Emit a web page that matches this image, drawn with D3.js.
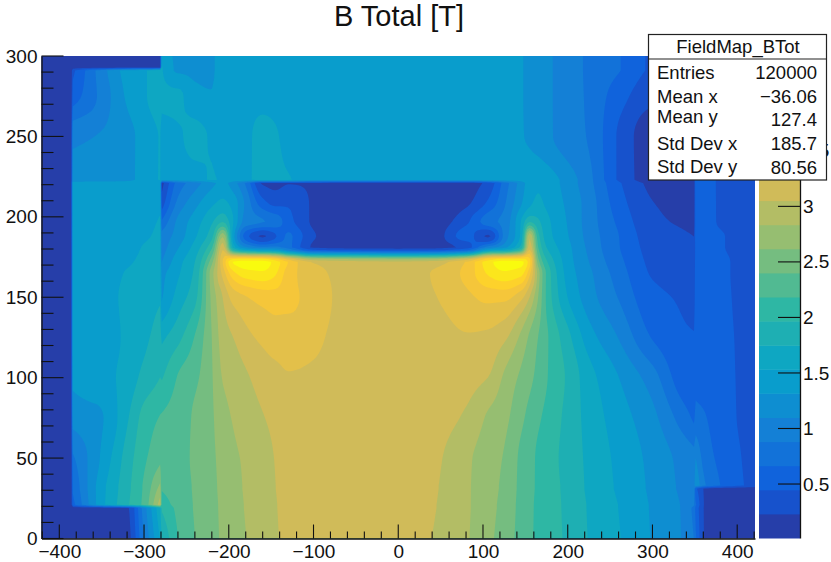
<!DOCTYPE html>
<html><head><meta charset="utf-8">
<script src="https://cdn.jsdelivr.net/npm/d3@7"></script>
<style>html,body{margin:0;background:#fff}svg{display:block}text{font-family:"Liberation Sans",Arial,sans-serif;fill:#111}</style>
</head><body><svg id="c" width="831" height="562"></svg>
<script>
const titleText = "B Total [T]";
const statsName = "FieldMap_BTot";
const statsLabels = ["Entries","Mean x","Mean y","Std Dev x","Std Dev y"];
const statsValues = ["120000","\u221236.06","127.4","185.7","80.56"];
const xTicks = [-400,-300,-200,-100,0,100,200,300,400];
const yTicks = [0,50,100,150,200,250,300];
const zTicks = [0.5,1,1.5,2,2.5,3,3.5];
const zMin = 0.014, zMax = 4.354, nLevels = 20;
const birdR = [0.2082,0.0592,0.0780,0.0232,0.1802,0.5301,0.8186,0.9956,0.9764];
const birdG = [0.1664,0.3599,0.5041,0.6419,0.7178,0.7492,0.7328,0.7862,0.9832];
const birdB = [0.5293,0.8684,0.8385,0.7914,0.6425,0.4662,0.3499,0.1968,0.0539];
// sample positions of the field (mm), uneven so sharp edges stay sharp
const gridX = [-421,-386,-384,-350,-320,-300,-281, -279,-260,-240,-220,-207,-195,-180,-160,-145,-130,-100,-60, 0,40,80,106,125,145,155,165,175, 200,225,260,300,335,349,351,362,385,421];
const gridY = [0,19,21,31,33,50,75,100,125,150,165,172,181,188,197,208,221,223,250,275,291,293,300];
const edgeLeftX = [-386,-281,349];   // lower bound of a jump in the field
const edgeLowY = [19,31,221,291];
// B total (T), one row per gridY value
const field = [
[.1,.1,.1,.1,.15,.9,1.55, 1.75,2.18, 2.40,2.55,2.65,2.72,2.83,2.95,3.03,3.1,3.16,3.16, 3.16,3.05,2.86,2.67,2.52,2.32,2.22,2.14,2.07, 1.93,1.74,1.55,1.3,1.09,.88,.7,.2,.1,.1],
[.1,.1,.1,.1,.2,1.0,1.7, 2.0,2.24, 2.42,2.56,2.66,2.74,2.85,2.96,3.04,3.11,3.16,3.16, 3.16,3.07,2.87,2.69,2.55,2.33,2.23,2.14,2.07, 1.92,1.73,1.53,1.29,1.08,.82,.6,.2,.1,.1],
[.1,.1,.6,1.46,1.93,2.25,2.95, 2.1,2.25, 2.42,2.56,2.66,2.74,2.85,2.96,3.04,3.11,3.16,3.16, 3.16,3.07,2.87,2.69,2.55,2.33,2.23,2.14,2.07, 1.92,1.73,1.53,1.29,1.08,.9,.7,.2,.1,.1],
[.1,.1,.7,1.45,1.9,2.22,2.7, 2.2,2.28, 2.43,2.57,2.67,2.76,2.86,2.97,3.05,3.115,3.16,3.16, 3.16,3.08,2.87,2.7,2.57,2.34,2.24,2.15,2.07, 1.91,1.71,1.5,1.27,1.06,1.0,.5,.2,.1,.1],
[.1,.1,.7,1.45,1.9,2.22,2.65, 2.2,2.28, 2.43,2.57,2.67,2.76,2.86,2.97,3.05,3.115,3.16,3.16, 3.16,3.08,2.87,2.7,2.57,2.34,2.24,2.15,2.07, 1.91,1.71,1.5,1.27,1.06,1.0,1.3,.9,.62,.36],
[.1,.1,.85,1.35,1.85,2.14,2.35, 2.25,2.3, 2.45,2.58,2.69,2.79,2.87,2.98,3.06,3.12,3.16,3.16, 3.16,3.1,2.88,2.72,2.6,2.35,2.25,2.15,2.07, 1.89,1.7,1.48,1.25,1.03,.95,1.1,.78,.58,.35],
[.1,.1,1.18,1.3,1.72,2.05,2.2, 2.2,2.27, 2.44,2.59,2.76,2.85,2.94,3.04,3.1,3.14,3.16,3.16, 3.16,3.14,3.02,2.8,2.68,2.45,2.33,2.22,2.13, 1.9,1.67,1.42,1.16,.78,.63,.75,.68,.52,.35],
[.1,.1,1.35,1.45,1.62,1.82,1.97, 1.95,2.2, 2.35,2.6,2.85,2.92,3.02,3.14,3.2,3.25,3.23,3.16, 3.16,3.16,3.13,3.05,2.8,2.57,2.46,2.33,2.2, 1.93,1.62,1.32,.98,.55,.5,.6,.58,.5,.35],
[.1,.1,1.38,1.42,1.58,1.7,1.85, 1.7,1.9, 2.2,2.62,2.94,3.05,3.2,3.32,3.38,3.38,3.32,3.18, 3.16,3.18,3.25,3.22,3.1,2.78,2.58,2.4,2.22, 1.82,1.42,1.09,.65,.48,.46,.58,.56,.49,.35],
[.1,.1,1.38,1.45,1.58,1.65,1.72, 1.3,1.62, 1.9,2.68,3.06,3.35,3.47,3.57,3.6,3.55,3.4,3.2, 3.16,3.25,3.42,3.55,3.55,3.33,3.05,2.62,2.15, 1.53,1.2,.87,.5,.42,.36,.56,.55,.48,.33],
[.1,.1,1.38,1.42,1.55,1.6,1.6, 1.25,1.5, 1.8,2.75,3.35,3.85,4.05,4.1,3.95,3.6,3.35,3.2, 3.16,3.28,3.55,3.95,4.1,4.0,3.55,2.75,2.15, 1.45,1.15,.78,.43,.38,.33,.55,.52,.47,.33],
[.1,.1,1.38,1.41,1.5,1.58,1.6, 1.1,1.45, 1.75,2.55,3.5,4.15,4.25,4.25,4.05,3.7,3.25,3.15, 3.1,3.15,3.5,4.05,4.25,4.2,3.8,2.5,2.0, 1.42,1.1,.73,.4,.33,.3,.55,.52,.47,.33],
[.1,.1,1.38,1.4,1.44,1.55,1.6, 1.0,1.3, 1.62,2.15,3.2,1.7,1.15,.95,.95,.75,.2,.12, .1,.12,.32,1.0,1.25,1.85,3.2,2.2,1.75, 1.38,1.05,.68,.36,.27,.25,.55,.5,.45,.33],
[.1,.1,1.38,1.4,1.43,1.5,1.58, .95,1.2, 1.5,1.9,2.8,1.45,.55,.2,.42,.7,.25,.1, .1,.1,.55,.2,.95,1.6,3.0,2.05,1.65, 1.33,1.02,.67,.33,.26,.23,.58,.5,.45,.33],
[.1,.1,1.4,1.41,1.42,1.47,1.55, .7,1.15, 1.42,1.72,1.95,1.55,1.0,.9,.8,.55,.2,.1, .1,.1,.4,.8,.95,1.55,1.95,1.8,1.6, 1.3,1.0,.62,.28,.2,.15,.58,.5,.42,.35],
[.1,.1,1.42,1.42,1.42,1.45,1.5, .35,.95, 1.25,1.5,1.6,1.45,1.05,.55,.4,.42,.2,.1, .1,.1,.2,.5,.85,1.3,1.5,1.58,1.5, 1.27,1.0,.55,.24,.17,.12,.6,.5,.42,.35],
[.1,.1,1.42,1.42,1.42,1.42,1.43, .15,.75, 1.0,1.25,1.38,1.2,.85,.2,.15,.22,.2,.12, .1,.1,.12,.3,.75,1.2,1.42,1.5,1.45, 1.22,.95,.48,.18,.12,.1,.62,.5,.42,.35],
[.1,.1,1.18,1.2,1.25,1.42,1.55, 1.42,1.42, 1.45,1.55,1.5,1.45,1.5,1.58,1.58,1.55,1.42,1.42, 1.42,1.42,1.42,1.42,1.42,1.42,1.45,1.5,1.45, 1.22,.95,.42,.12,.12,.1,.62,.5,.42,.35],
[.1,.1,1.05,1.12,1.25,1.4,1.55, 1.45,1.5, 1.6,1.5,1.42,1.42,1.45,1.68,1.57,1.46,1.42,1.42, 1.42,1.42,1.42,1.42,1.42,1.33,1.29,1.22,1.15, .99,.86,.42,.1,.1,.1,.6,.5,.42,.35],
[.1,.1,.55,.95,1.35,1.5,1.7, 1.58,1.58, 1.38,1.33,1.42,1.42,1.42,1.42,1.42,1.42,1.42,1.42, 1.42,1.42,1.42,1.42,1.42,1.33,1.27,1.2,1.14, 1.0,.84,.55,.3,.3,.3,.6,.5,.42,.35],
[.1,.1,.4,1.0,1.4,1.5,1.75, 1.55,1.28, 1.27,1.29,1.42,1.42,1.42,1.42,1.42,1.42,1.42,1.42, 1.42,1.42,1.42,1.42,1.42,1.33,1.27,1.2,1.14, 1.0,.84,.68,.42,.4,.38,.6,.5,.42,.35],
[.1,.1,.1,.1,.1,.1,.1, 1.55,1.28, 1.27,1.29,1.42,1.42,1.42,1.42,1.42,1.42,1.42,1.42, 1.42,1.42,1.42,1.42,1.42,1.33,1.27,1.2,1.14, 1.0,.84,.68,.42,.4,.38,.6,.5,.42,.35],
[.1,.1,.1,.1,.1,.1,.1, 1.5,1.27, 1.27,1.29,1.42,1.42,1.42,1.42,1.42,1.42,1.42,1.42, 1.42,1.42,1.42,1.42,1.42,1.33,1.27,1.2,1.14, 1.0,.84,.68,.42,.4,.38,.6,.5,.42,.35]
];

const W=831,H=562, L=41.5,R=755,T=56,B=538.5, barL=759,barR=800;
const svg=d3.select("#c");
const x=d3.scaleLinear().domain([-421,421]).range([L,R]);
const y=d3.scaleLinear().domain([0,300]).range([B,T]);
const z=d3.scaleLinear().domain([zMin,zMax]).range([538,56]);
const stops=birdR.map((_,i)=>i/(birdR.length-1));
const pal=d3.scaleLinear().domain(stops).range(birdR.map((r,i)=>d3.rgb(r*255,birdG[i]*255,birdB[i]*255)));
const bandColor=i=>pal((i+.99)/nLevels);
const step=(zMax-zMin)/nLevels;
const levels=d3.range(nLevels).map(i=>zMin+i*step);

// monotone cubic resampling for drawing only: bends the contour lines, adds no extremes, keeps jumps sharp
function tangents(ks,vs){
  const n=ks.length,d=[],t=new Array(n);
  for(let i=0;i<n-1;i++)d.push((vs[i+1]-vs[i])/(ks[i+1]-ks[i]));
  t[0]=d[0]||0;t[n-1]=d[n-2]||0;
  for(let i=1;i<n-1;i++){t[i]=d[i-1]*d[i]<=0?0:2*d[i-1]*d[i]/(d[i-1]+d[i]);}
  return t;
}
function segments(ks,edges){
  const segs=[];let s=[0];
  for(let i=1;i<ks.length;i++){ if(edges.includes(ks[i-1])){segs.push(s);s=[];} s.push(i);}
  segs.push(s);return segs;
}
function fineAxis(ks,edges,dk){
  const out=[];
  segments(ks,edges).forEach(seg=>{
    for(let j=0;j<seg.length-1;j++){
      const a=ks[seg[j]],b=ks[seg[j+1]],c=Math.max(1,Math.ceil((b-a)/dk));
      for(let q=0;q<c;q++)out.push(a+(b-a)*q/c);
    }
    out.push(ks[seg[seg.length-1]]);
  });
  return out;
}
function resample(ks,vs,edges,fine){
  const res=new Array(fine.length);
  const segs=segments(ks,edges);
  segs.forEach(seg=>{
    const k=seg.map(i=>ks[i]),v=seg.map(i=>vs[i]),t=k.length>1?tangents(k,v):[0];
    fine.forEach((f,fi)=>{
      if(f<k[0]||f>k[k.length-1])return;
      let j=d3.bisectRight(k,f)-1; if(j>=k.length-1)j=Math.max(0,k.length-2);
      if(k.length===1){res[fi]=v[0];return;}
      const h=k[j+1]-k[j],u=(f-k[j])/h;
      res[fi]=(2*u*u*u-3*u*u+1)*v[j]+(u*u*u-2*u*u+u)*h*t[j]+(-2*u*u*u+3*u*u)*v[j+1]+(u*u*u-u*u)*h*t[j+1];
    });
  });
  return res;
}
const fineX=fineAxis(gridX,edgeLeftX,3), fineY=fineAxis(gridY,edgeLowY,2);
const rowsFine=field.map(r=>resample(gridX,r,edgeLeftX,fineX));
const n=fineX.length,m=fineY.length;
const flat=new Array(n*m);
fineX.forEach((_,c)=>{
  const col=resample(gridY,rowsFine.map(r=>r[c]),edgeLowY,fineY);
  col.forEach((v,r)=>{flat[r*n+c]=v;});
});
const idxX=d3.scaleLinear().domain(fineX.map((_,i)=>i+.5)).range(fineX).clamp(true);
const idxY=d3.scaleLinear().domain(fineY.map((_,i)=>i+.5)).range(fineY).clamp(true);
const contours=d3.contours().size([n,m]).thresholds(levels)(flat);
const proj=d3.geoTransform({point(a,b){this.stream.point(x(idxX(a)),y(idxY(b)));}});
const path=d3.geoPath(proj);
svg.append("defs").append("clipPath").attr("id","plot").append("rect").attr("x",L).attr("y",T).attr("width",R-L).attr("height",B-T);
svg.append("rect").attr("x",L).attr("y",T).attr("width",R-L).attr("height",B-T).attr("fill",bandColor(0));
svg.append("g").attr("clip-path","url(#plot)").selectAll("path").data(contours).join("path")
  .attr("d",path).attr("fill",(d,i)=>bandColor(i));

// colour bar
svg.append("g").selectAll("rect").data(levels).join("rect")
  .attr("x",barL).attr("width",barR-barL)
  .attr("y",d=>z(d+step)).attr("height",d=>z(d)-z(d+step)+.5)
  .attr("fill",(d,i)=>bandColor(i));
const fmtMinus=d=>String(d).replace("-","\u2212");
const ax=svg.append("g").attr("transform",`translate(0,${B})`)
  .call(d3.axisBottom(x).tickValues(xTicks).tickSize(0).tickPadding(6).tickFormat(fmtMinus));
const ay=svg.append("g").attr("transform",`translate(${L},0)`)
  .call(d3.axisLeft(y).tickValues(yTicks).tickSize(0).tickPadding(4).tickFormat(fmtMinus));
const az=svg.append("g").attr("transform",`translate(${barR},0)`)
  .call(d3.axisRight(z).tickValues(zTicks).tickSize(0).tickPadding(3).tickFormat(d=>d));
[ax,ay,az].forEach(g=>{g.selectAll("text").style("font-size","19px").style("font-family",'"Liberation Sans"').attr("fill","#111");
  g.select(".domain").attr("stroke","#111").attr("stroke-width",1.3);});
const tickG=svg.append("g").attr("stroke","#111").attr("stroke-width",1.1);
const minorX=d3.range(-420,421,20), minorY=d3.range(0,301,10);
tickG.selectAll("line.mx").data(minorX).join("line").attr("class","mx")
  .attr("x1",d=>x(d)).attr("x2",d=>x(d)).attr("y1",B).attr("y2",d=>d%100===0?B-14:B-7);
tickG.selectAll("line.my").data(minorY).join("line").attr("class","my")
  .attr("y1",d=>y(d)).attr("y2",d=>y(d)).attr("x1",L).attr("x2",d=>d%50===0?L+22:L+12);
tickG.selectAll("line.mz").data(zTicks).join("line").attr("class","mz")
  .attr("y1",d=>z(d)).attr("y2",d=>z(d)).attr("x1",barR-22).attr("x2",barR);

svg.append("text").text(titleText).attr("x",399).attr("y",26).attr("text-anchor","middle").style("font-size","29px");

// statistics box
const box=svg.append("g");
box.append("rect").attr("x",648.5).attr("y",34.5).attr("width",178).attr("height",145.5).attr("fill","#fff").attr("stroke","#222").attr("stroke-width",1.2);
box.append("line").attr("x1",648.5).attr("x2",826.5).attr("y1",59).attr("y2",59).attr("stroke","#222").attr("stroke-width",1.2);
box.append("text").text(statsName).attr("x",738).attr("y",53).attr("text-anchor","middle").style("font-size","18.5px");
const statsY=[79,103,123,150,173];
const statsYV=[79,103,126,150,174];
box.selectAll("text.l").data(statsLabels).join("text").attr("class","l").text(d=>d).attr("x",657).attr("y",(d,i)=>statsY[i]).style("font-size","18.5px");
box.selectAll("text.v").data(statsValues).join("text").attr("class","v").text(d=>d).attr("x",817).attr("y",(d,i)=>statsYV[i]).attr("text-anchor","end").style("font-size","18.5px");
</script></body></html>
